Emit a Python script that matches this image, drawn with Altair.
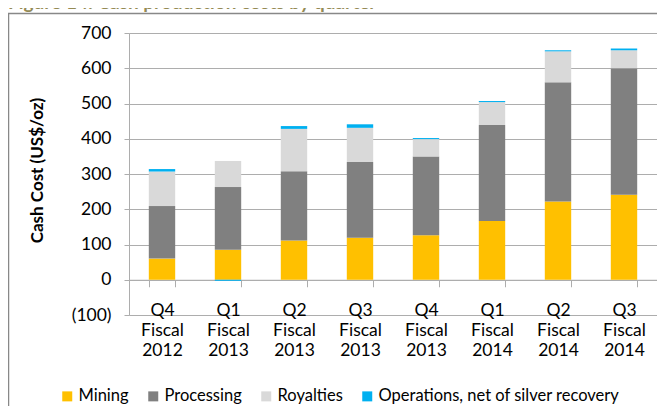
import altair as alt
import pandas as pd

# ---- data ----
quarters = ["Q4|Fiscal|2012", "Q1|Fiscal|2013", "Q2|Fiscal|2013", "Q3|Fiscal|2013",
            "Q4|Fiscal|2013", "Q1|Fiscal|2014", "Q2|Fiscal|2014", "Q3|Fiscal|2014"]
series = ["Mining", "Processing", "Royalties", "Operations, net of silver recovery"]
colors = ["#FFC000", "#808080", "#D9D9D9", "#00B0F0"]
mining = [60, 85, 111, 119, 126, 167, 222, 241]
processing = [149, 178, 197, 215, 224, 272, 338, 359]
royalties = [98, 74, 120, 97, 49, 65, 88, 51]
operations = [7, -3, 8, 10, 3, 3, 3, 5]
y_ticks = [-100, 0, 100, 200, 300, 400, 500, 600, 700]
y_title = "Cash Cost (US$/oz)"
fig_title = "Figure 14: Cash production costs by quarter"

rows = []
for i, q in enumerate(quarters):
    for k, (s, vals) in enumerate(zip(series, [mining, processing, royalties, operations])):
        rows.append({"quarter": q, "series": s, "value": vals[i], "idx": k})
df = pd.DataFrame(rows)

FONT = "Lato"
GRID = "#ADADAD"
W, H = 528, 282

bars = alt.Chart(df).mark_bar().encode(
    x=alt.X("quarter:N", sort=quarters, title=None,
            scale=alt.Scale(paddingInner=0.6, paddingOuter=0.3),
            axis=alt.Axis(orient="bottom", offset=-35.25, tickBand="extent",
                          domain=True, domainColor=GRID, ticks=True, tickColor=GRID,
                          tickSize=7, labelAngle=0, labelFont=FONT, labelFontSize=17.5,
                          labelColor="#000000", labelPadding=15, labelLineHeight=20,
                          labelBaseline="top",
                          labelExpr="split(datum.label, '|')")),
    y=alt.Y("value:Q", stack="zero", title=y_title,
            scale=alt.Scale(domain=[-100, 700], nice=False, zero=False),
            axis=alt.Axis(values=y_ticks, grid=True, gridColor=GRID, domain=True,
                          domainColor=GRID, tickColor=GRID, tickSize=5,
                          labelFont=FONT, labelFontSize=17.5, labelColor="#000000",
                          labelPadding=13,
                          labelExpr="datum.value < 0 ? '(' + format(-datum.value, 'd') + ')' : format(datum.value, 'd')",
                          titleFont=FONT, titleFontSize=17, titleFontWeight="bold",
                          titleColor="#000000", titleAngle=-90, titleAlign="center",
                          titleBaseline="middle", titleX=-91.5, titleY=137)),
    color=alt.Color("series:N", sort=series,
                    scale=alt.Scale(domain=series, range=colors),
                    legend=alt.Legend(title=None, orient="none", direction="horizontal",
                                      legendX=-70, legendY=355, symbolType="square",
                                      symbolSize=100, symbolStrokeWidth=0,
                                      labelFont=FONT, labelFontSize=16.5,
                                      labelColor="#000000", labelOffset=3,
                                      labelLimit=0, columnPadding=16, padding=0)),
    order=alt.Order("idx:Q"),
)

frame_df = pd.DataFrame({"k": [0]})
frame = alt.Chart(frame_df).mark_rect(fill=None, stroke="#888888", strokeWidth=1.5).encode(
    x=alt.value(-120.5), x2=alt.value(W + 40), y=alt.value(-19.5), y2=alt.value(H + 140)
)

title_df = pd.DataFrame({"t": [fig_title]})
title = alt.Chart(title_df).mark_text(
    align="left", baseline="alphabetic", font=FONT, fontSize=19, fontWeight="bold",
    color="#948A54"
).encode(text="t:N", x=alt.value(-121), y=alt.value(-24))

chart = alt.layer(frame, bars, title).properties(
    width=W, height=H,
    autosize=alt.AutoSizeParams(type="none"),
    padding={"left": 121, "top": 25, "right": 0, "bottom": 91},
).configure_view(stroke=None).configure(background="#FFFFFF")

chart.save("out.html", embed_options={"renderer": "svg", "actions": False})
